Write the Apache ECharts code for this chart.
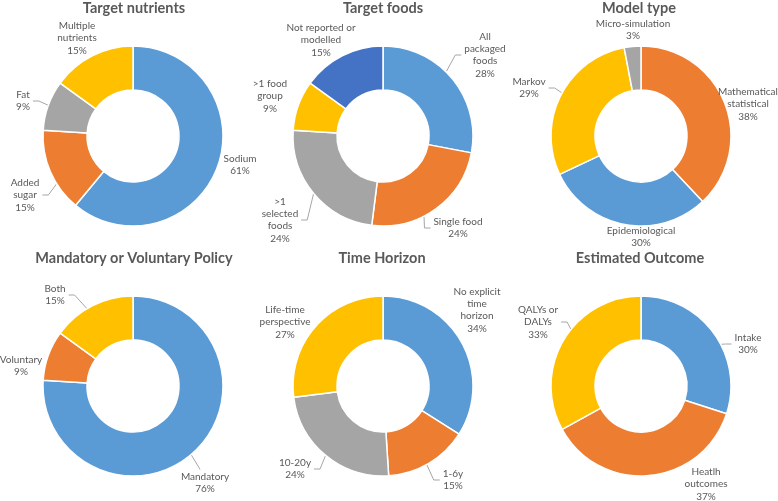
<!DOCTYPE html>
<html>
<head>
<meta charset="utf-8">
<script src="https://cdn.jsdelivr.net/npm/echarts@6/dist/echarts.min.js"></script>
<style>
  html, body { margin: 0; padding: 0; background: #ffffff; }
  #chart { width: 778px; height: 501px; }
</style>
</head>
<body>
<div id="chart"></div>
<script>
// ---- Data ----
const nutrientCats = ['Sodium', 'Added\nsugar', 'Fat', 'Multiple\nnutrients'];
const nutrientVals = [61, 15, 9, 15];

const foodCats = ['All\npackaged\nfoods', 'Single food', '>1\nselected\nfoods', '>1 food\ngroup', 'Not reported or\nmodelled'];
const foodVals = [28, 24, 24, 9, 15];

const modelCats = ['Mathematical\nstatistical', 'Epidemiological', 'Markov', 'Micro-simulation'];
const modelVals = [38, 30, 29, 3];

const policyCats = ['Mandatory', 'Voluntary', 'Both'];
const policyVals = [76, 9, 15];

const horizonCats = ['No explicit\ntime\nhorizon', '1-6y', '10-20y', 'Life-time\nperspective'];
const horizonVals = [34, 15, 24, 27];

const outcomeCats = ['Intake', 'Heatlh\noutcomes', 'QALYs or\nDALYs'];
const outcomeVals = [30, 37, 33];

const titles = ['Target nutrients', 'Target foods', 'Model type',
                'Mandatory or Voluntary Policy', 'Time Horizon', 'Estimated Outcome'];

// ---- Styles / layout ----
const BLUE = '#5B9BD5', ORANGE = '#ED7D31', GRAY = '#A5A5A5', YELLOW = '#FFC000', DBLUE = '#4472C4';
const TEXT = '#595959';
const R_IN = 46, R_OUT = 90;

const charts = [
  { cats: nutrientCats, vals: nutrientVals, colors: [BLUE, ORANGE, GRAY, YELLOW], center: [133, 136],
    labelPos: [[240, 165], [25, 195], [23, 101], [77, 38]],
    lines: [null, ['right', 0.45], ['right', 0.95], null] },
  { cats: foodCats, vals: foodVals, colors: [BLUE, ORANGE, GRAY, YELLOW, DBLUE], center: [383, 136],
    labelPos: [[485, 55], [458, 228], [280, 220], [270, 96], [321, 40]],
    lines: [['left', 0.47], ['left', 0.5], ['right', 1.0], null, null] },
  { cats: modelCats, vals: modelVals, colors: [ORANGE, BLUE, YELLOW, GRAY], center: [641, 136],
    labelPos: [[748, 104], [641, 237], [529, 88], [633, 30]],
    lines: [null, null, ['right', 0.5], null] },
  { cats: policyCats, vals: policyVals, colors: [BLUE, ORANGE, YELLOW], center: [133, 386],
    labelPos: [[205, 483], [21, 366], [55, 295]],
    lines: [['top', 0.5], null, ['right', 0.5]] },
  { cats: horizonCats, vals: horizonVals, colors: [BLUE, ORANGE, GRAY, YELLOW], center: [383, 386],
    labelPos: [[477, 310], [453, 480], [295, 469], [285, 322]],
    lines: [null, ['left', 0.5], ['right', 1.0], null] },
  { cats: outcomeCats, vals: outcomeVals, colors: [BLUE, ORANGE, YELLOW], center: [641, 386],
    labelPos: [[748, 344], [706, 484], [538, 322]],
    lines: [['left', 0.5], null, ['right', 0.5]] }
];
const titlePos = [[134, 1], [383, 1], [639, 1], [134, 251], [382, 251], [640, 251]];

function midAngle(vals, i) {
  const total = vals.reduce((a, b) => a + b, 0);
  let cum = 0;
  for (let k = 0; k < i; k++) cum += vals[k];
  return (cum + vals[i] / 2) / total * Math.PI * 2; // clockwise from 12 o'clock
}

const chart = echarts.init(document.getElementById('chart'), null, { renderer: 'canvas' });

const series = charts.map((c, si) => ({
  type: 'pie',
  center: c.center,
  radius: [R_IN, R_OUT],
  startAngle: 90,
  clockwise: true,
  avoidLabelOverlap: false,
  silent: true,
  itemStyle: { borderColor: '#ffffff', borderWidth: 1.5 },
  label: {
    show: true, position: 'outside', formatter: '{b}\n{c}%',
    color: TEXT, fontFamily: 'Lato', fontSize: 10, lineHeight: 12.4
  },
  labelLine: { show: true, lineStyle: { color: '#A6A6A6', width: 1 }, length: 5, length2: 5 },
  emphasis: { disabled: true },
  data: c.vals.map((v, i) => ({
    name: c.cats[i], value: v,
    itemStyle: { color: c.colors[i] },
    labelLine: { show: !!c.lines[i] }
  })),
  labelLayout: function (params) {
    const i = params.dataIndex;
    const p = c.labelPos[i];
    const res = { x: p[0], y: p[1], align: 'center', verticalAlign: 'middle' };
    const ln = c.lines[i];
    if (ln) {
      const w = params.labelRect.width, h = params.labelRect.height;
      const a = midAngle(c.vals, i);
      const r = R_IN + ln[1] * (R_OUT - R_IN);
      const end = [c.center[0] + r * Math.sin(a), c.center[1] - r * Math.cos(a)];
      let start, elbow;
      if (ln[0] === 'right') {
        start = [p[0] + w / 2 + 3, p[1]]; elbow = [start[0] + 6, p[1]];
      } else if (ln[0] === 'left') {
        start = [p[0] - w / 2 - 3, p[1]]; elbow = [start[0] - 6, p[1]];
      } else {
        start = [p[0] - 5, p[1] - h / 2 - 1]; elbow = [start[0] - 1, start[1] - 2];
      }
      res.labelLinePoints = [end, elbow, start];
    }
    return res;
  }
}));

chart.setOption({
  animation: false,
  title: titles.map((t, i) => ({
    text: t, left: titlePos[i][0], top: titlePos[i][1], textAlign: 'center', padding: 0,
    textStyle: { color: TEXT, fontFamily: 'Lato', fontWeight: 'bold', fontSize: 14.5 }
  })),
  series: series
});
</script>
</body>
</html>
